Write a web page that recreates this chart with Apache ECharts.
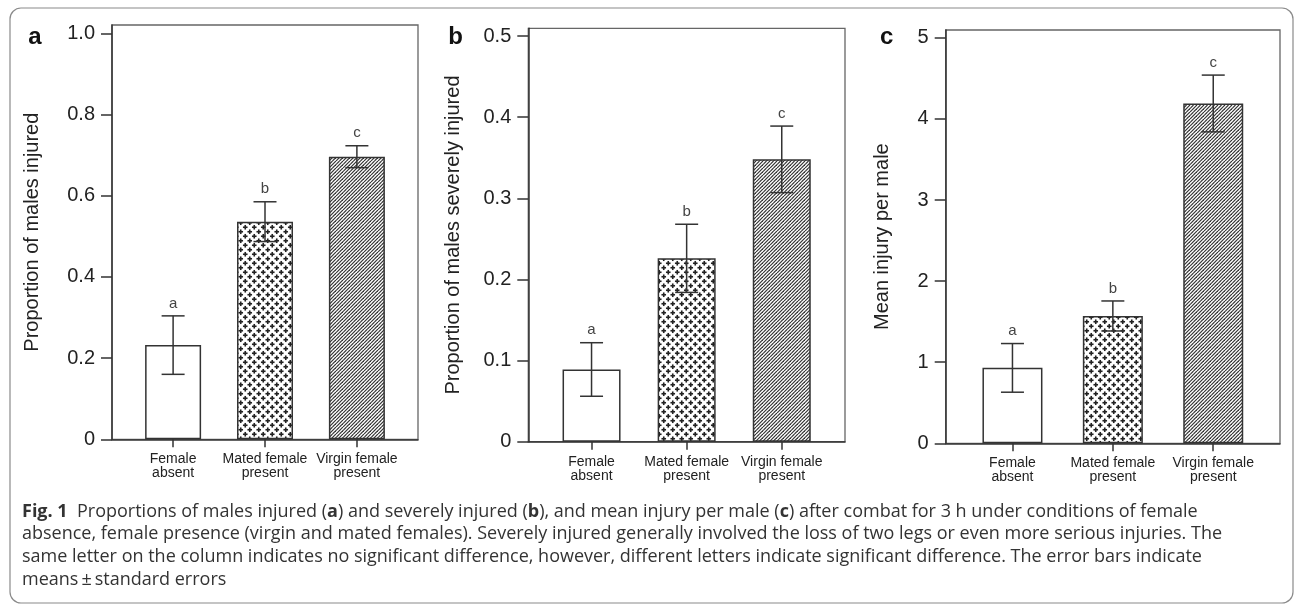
<!DOCTYPE html>
<html>
<head>
<meta charset="utf-8">
<script src="https://cdn.jsdelivr.net/npm/echarts@6/dist/echarts.min.js"></script>
<style>
html,body{margin:0;padding:0;background:#fff;}
#chart{width:1295px;height:605px;}
</style>
</head>
<body>
<div id="chart"></div>
<script>
// ---- data ----
const categories = ['Female\nabsent', 'Mated female\npresent', 'Virgin female\npresent'];
const injuredMean = [0.232, 0.536, 0.696];
const injuredSE   = [0.072, 0.049, 0.027];
const severeMean  = [0.089, 0.226, 0.348];
const severeSE    = [0.033, 0.042, 0.041];
const injuryMean  = [0.93, 1.57, 4.19];
const injurySE    = [0.30, 0.185, 0.35];
const sigLetters  = ['a', 'b', 'c'];
const yTicksA = [0, 0.2, 0.4, 0.6, 0.8, 1.0];
const yTicksB = [0, 0.1, 0.2, 0.3, 0.4, 0.5];
const yTicksC = [0, 1, 2, 3, 4, 5];
const yTitles = ['Proportion of males injured', 'Proportion of males severely injured', 'Mean injury per male'];
const panelLabels = ['a', 'b', 'c'];
const captionLines = [
  '{b|Fig. 1}  Proportions of males injured ({b|a}) and severely injured ({b|b}), and mean injury per male ({b|c}) after combat for 3 h under conditions of female',
  'absence, female presence (virgin and mated females). Severely injured generally involved the loss of two legs or even more serious injuries. The',
  'same letter on the column indicates no significant difference, however, different letters indicate significant difference. The error bars indicate',
  'means\u2009\u00b1\u2009standard errors'
];

// ---- patterns ----
function plusPattern() {
  const c = document.createElement('canvas');
  const s = 9; c.width = s; c.height = s;
  const g = c.getContext('2d');
  g.fillStyle = '#fff'; g.fillRect(0, 0, s, s);
  g.fillStyle = '#222';
  function plus(cx, cy) {
    g.fillRect(cx - 2.3, cy - 0.8, 4.6, 1.6);
    g.fillRect(cx - 0.8, cy - 2.3, 1.6, 4.6);
  }
  [[2.25, 2.25], [6.75, 6.75], [6.75 - 9, 6.75], [6.75, 6.75 - 9], [6.75 - 9, 6.75 - 9], [2.25 + 9, 2.25], [2.25, 2.25 + 9]].forEach(p => plus(p[0], p[1]));
  return c;
}
function stripePattern() {
  const c = document.createElement('canvas');
  const s = 7; c.width = s; c.height = s;
  const g = c.getContext('2d');
  g.fillStyle = '#fff'; g.fillRect(0, 0, s, s);
  g.strokeStyle = '#333'; g.lineWidth = 1.2;
  for (let k = -3.5; k <= 17.5; k += 3.5) {
    g.beginPath(); g.moveTo(k, 0); g.lineTo(k - 7, 7); g.stroke();
  }
  return c;
}
const fills = ['#ffffff', {image: plusPattern(), repeat: 'repeat'}, {image: stripePattern(), repeat: 'repeat'}];

const chart = echarts.init(document.getElementById('chart'));

const grids = [
  {left: 112, top: 25, width: 306, height: 414.3},
  {left: 528.3, top: 28.3, width: 316.7, height: 413.4},
  {left: 945.7, top: 30, width: 334.3, height: 413.3}
];
const yMax = [1.0204, 0.5095, 5.096];
const yTicks = [yTicksA, yTicksB, yTicksC];
const nameGaps = [70, 65, 53];
const barWidths = [56, 58, 60];
const means = [injuredMean, severeMean, injuryMean];
const ses = [injuredSE, severeSE, injurySE];
const labelPos = [[35, 37], [455.7, 37], [886.7, 37]];

const lineStyle = {color: '#333', width: 1.5};
const arial = "'Liberation Sans', Arial, sans-serif";

const option = {
  animation: false,
  backgroundColor: '#fff',
  grid: grids.map(g => Object.assign({show: true, borderColor: '#666', borderWidth: 1.3, backgroundColor: 'transparent', containLabel: false, outerBoundsMode: 'none'}, g)),
  xAxis: grids.map((g, i) => ({
    type: 'value', gridIndex: i, min: -0.665, max: 2.665,
    splitLine: {show: false},
    axisLine: {show: true, onZero: false, lineStyle: lineStyle},
    axisTick: {show: true, inside: false, length: 8, lineStyle: lineStyle, customValues: [0, 1, 2]},
    axisLabel: {
      customValues: [0, 1, 2], margin: 13, hideOverlap: false,
      formatter: v => categories[Math.round(v)],
      fontFamily: arial, fontSize: 14, lineHeight: 14, color: '#222'
    }
  })),
  yAxis: grids.map((g, i) => ({
    type: 'value', gridIndex: i, min: 0, max: yMax[i],
    splitLine: {show: false},
    axisLine: {show: true, onZero: false, lineStyle: lineStyle},
    axisTick: {show: true, inside: false, length: 11, lineStyle: lineStyle, customValues: yTicks[i]},
    axisLabel: {
      customValues: yTicks[i], margin: 17,
      formatter: v => (i === 2 || v === 0) ? String(Math.round(v)) : v.toFixed(1),
      fontFamily: arial, fontSize: 20, color: '#222'
    },
    name: yTitles[i], nameLocation: 'middle', nameGap: nameGaps[i],
    nameTextStyle: {fontFamily: arial, fontSize: 20, color: '#222'}
  })),
  series: []
};

means.forEach((m, i) => {
  option.series.push({
    type: 'bar', xAxisIndex: i, yAxisIndex: i, barWidth: barWidths[i],
    data: m.map((v, k) => ({value: [k, v], itemStyle: {color: fills[k], borderColor: '#333', borderWidth: 1.5}})),
    z: 2
  });
  option.series.push({
    type: 'custom', xAxisIndex: i, yAxisIndex: i, z: 5,
    data: m.map((v, k) => [k, v - ses[i][k], v + ses[i][k]]),
    renderItem: function (params, api) {
      const x = api.value(0);
      const lo = api.coord([x, api.value(1)]);
      const hi = api.coord([x, api.value(2)]);
      const half = 11.5;
      const st = {stroke: '#333', lineWidth: 1.5};
      return {type: 'group', children: [
        {type: 'line', shape: {x1: hi[0], y1: hi[1], x2: lo[0], y2: lo[1]}, style: st},
        {type: 'line', shape: {x1: hi[0] - half, y1: hi[1], x2: hi[0] + half, y2: hi[1]}, style: st},
        {type: 'line', shape: {x1: lo[0] - half, y1: lo[1], x2: lo[0] + half, y2: lo[1]}, style: st},
        {type: 'text', x: hi[0], y: hi[1] - 12.5, style: {
          text: sigLetters[params.dataIndex], align: 'center', verticalAlign: 'middle',
          fontFamily: arial, fontSize: 15, fill: '#444'}}
      ]};
    }
  });
});

const capFont = "'Open Sans', sans-serif";
const capSize = 18;
const captionRich = {
  b: {fontFamily: capFont, fontSize: capSize, fontWeight: 'bold', color: '#222'}
};
const graphics = [
  {type: 'rect', shape: {x: 10, y: 8, width: 1283, height: 595, r: 11},
   style: {fill: 'none', stroke: '#8a8a8a', lineWidth: 1.2}, z: 0, silent: true}
];
panelLabels.forEach((t, i) => {
  graphics.push({type: 'text', x: labelPos[i][0], y: labelPos[i][1], z: 10,
    style: {text: t, align: 'center', verticalAlign: 'middle',
      fontFamily: arial, fontSize: 24, fontWeight: 'bold', fill: '#111'}});
});
const captionY = [511.5, 534, 557, 580];
captionLines.forEach((line, i) => {
  graphics.push({type: 'text', x: 22, y: captionY[i], z: 10,
    style: {text: line, rich: captionRich, align: 'left', verticalAlign: 'middle',
      fontFamily: capFont, fontSize: capSize, fill: '#333'}});
});
option.graphic = graphics;

chart.setOption(option);
</script>
</body>
</html>
